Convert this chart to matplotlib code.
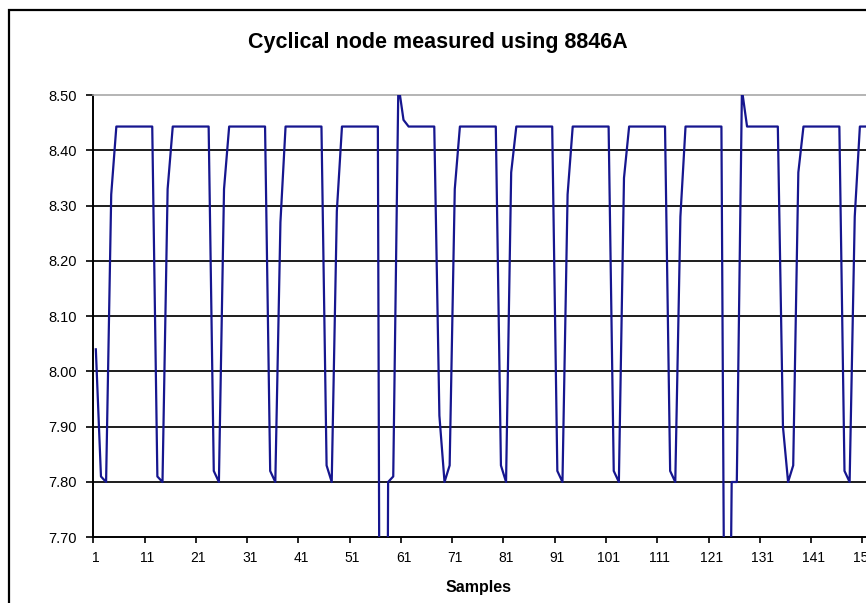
import matplotlib
matplotlib.use("Agg")
import matplotlib.pyplot as plt
from matplotlib.patches import Rectangle

plt.rcParams['font.family'] = ['Liberation Sans', 'DejaVu Sans']

title = "Cyclical node measured using 8846A"
x_title = "Samples"

# 8846A readings, one per sample (volts); 57 and 124 fall off the bottom of the scale
readings = [
    8.04, 7.81, 7.80, 8.32,
    8.443, 8.443, 8.443, 8.443, 8.443, 8.443, 8.443, 8.443,
    7.81, 7.80, 8.33,
    8.443, 8.443, 8.443, 8.443, 8.443, 8.443, 8.443, 8.443,
    7.82, 7.80, 8.33,
    8.443, 8.443, 8.443, 8.443, 8.443, 8.443, 8.443, 8.443,
    7.82, 7.80, 8.27,
    8.443, 8.443, 8.443, 8.443, 8.443, 8.443, 8.443, 8.443,
    7.83, 7.80, 8.29,
    8.443, 8.443, 8.443, 8.443, 8.443, 8.443, 8.443, 8.443,
    5.50, 7.80, 7.81, 8.52,
    8.455, 8.443, 8.443, 8.443, 8.443, 8.443, 8.443,
    7.92, 7.80, 7.83, 8.33,
    8.443, 8.443, 8.443, 8.443, 8.443, 8.443, 8.443, 8.443,
    7.83, 7.80, 8.36,
    8.443, 8.443, 8.443, 8.443, 8.443, 8.443, 8.443, 8.443,
    7.82, 7.80, 8.32,
    8.443, 8.443, 8.443, 8.443, 8.443, 8.443, 8.443, 8.443,
    7.82, 7.80, 8.35,
    8.443, 8.443, 8.443, 8.443, 8.443, 8.443, 8.443, 8.443,
    7.82, 7.80, 8.28,
    8.443, 8.443, 8.443, 8.443, 8.443, 8.443, 8.443, 8.443,
    6.80, 7.80, 7.80, 8.51,
    8.443, 8.443, 8.443, 8.443, 8.443, 8.443, 8.443,
    7.90, 7.80, 7.83, 8.36,
    8.443, 8.443, 8.443, 8.443, 8.443, 8.443, 8.443, 8.443,
    7.82, 7.80, 8.28,
    8.443, 8.443, 8.443,
]
samples = list(range(1, len(readings) + 1))

y_ticks = [7.70, 7.80, 7.90, 8.00, 8.10, 8.20, 8.30, 8.40, 8.50]
x_labels = list(range(1, 152, 10))

fig = plt.figure(figsize=(8.66, 6.03), dpi=100)
ax = fig.add_axes([0.1077, 0.1090, 0.977, 0.7334])

ax.plot(samples, readings, color='#16168f', lw=1.6, zorder=3)

ax.set_xlim(0.5, 165.5)
ax.set_ylim(7.70, 8.50)

# category axis: tick marks between categories, labels on the categories
ax.set_xticks([v - 0.5 for v in x_labels])
ax.set_xticklabels([])
ax.set_xticks(x_labels, minor=True)
ax.set_xticklabels([str(v) for v in x_labels], minor=True)
ax.tick_params(axis='x', which='major', direction='out', length=4, width=1.2, color='black')
ax.tick_params(axis='x', which='minor', length=0, pad=10, labelsize=10)

ax.set_yticks(y_ticks)
ax.set_yticklabels([f"{v:.2f}" for v in y_ticks])
ax.tick_params(axis='y', direction='out', length=5, width=1.2, pad=7, labelsize=10.5, color='black')

ax.yaxis.grid(True, color='#1c1c1c', lw=1.4)
ax.set_axisbelow(True)
glines = ax.get_ygridlines()
glines[0].set_visible(False)
glines[-1].set_visible(False)

ax.spines['top'].set_color('#a8a8a8')
ax.spines['top'].set_linewidth(1.2)
ax.spines['right'].set_visible(False)
ax.spines['left'].set_linewidth(1.4)
ax.spines['bottom'].set_linewidth(1.4)

fig.text(0.506, 0.930, title, ha='center', va='center', fontsize=15.5, fontweight='bold')
fig.text(0.552, 0.025, x_title, ha='center', va='center', fontsize=11.5, fontweight='bold')

# chart area border (cropped at the right and bottom)
fig.add_artist(Rectangle((0.0101, -0.1), 1.2, 1.0826, transform=fig.transFigure,
                         fill=False, edgecolor='black', lw=1.6, clip_on=False))

fig.savefig("out.png", dpi=100)
